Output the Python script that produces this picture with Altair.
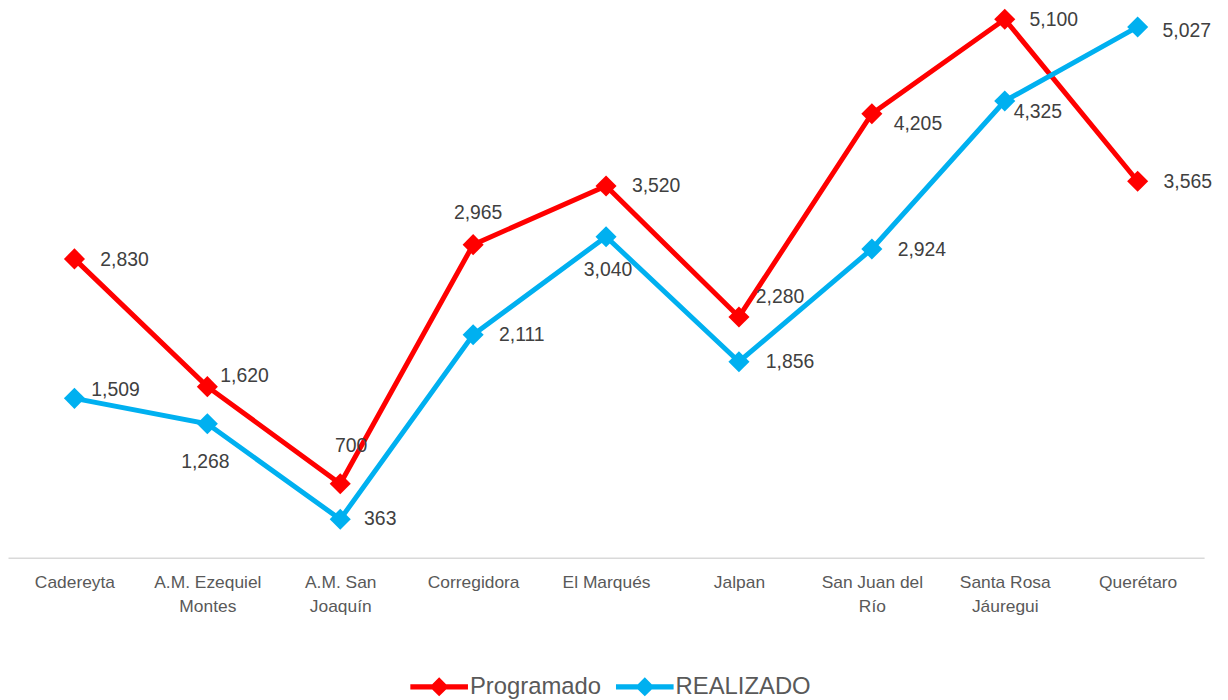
import altair as alt
import pandas as pd

categories = ["Cadereyta", "A.M. Ezequiel Montes", "A.M. San Joaquín", "Corregidora",
              "El Marqués", "Jalpan", "San Juan del Río", "Santa Rosa Jáuregui", "Querétaro"]
tick_lines = [["Cadereyta"], ["A.M. Ezequiel", "Montes"], ["A.M. San", "Joaquín"], ["Corregidora"],
              ["El Marqués"], ["Jalpan"], ["San Juan del", "Río"], ["Santa Rosa", "Jáuregui"], ["Querétaro"]]
series = ["Programado", "REALIZADO"]
programado = [2830, 1620, 700, 2965, 3520, 2280, 4205, 5100, 3565]
realizado = [1509, 1268, 363, 2111, 3040, 1856, 2924, 4325, 5027]
colors = ["#ff0000", "#00b0f0"]

rows = []
for s, vals in zip(series, [programado, realizado]):
    for c, v in zip(categories, vals):
        rows.append({"cat": c, "serie": s, "valor": v})
df = pd.DataFrame(rows)

# label placement (align, dx, dy) per series, per category
place = {
    "Programado": [("left", 26, 1), ("left", 13, -11), ("center", 11, -38), ("center", 5, -32),
                   ("left", 26, 0), ("left", 17, -20), ("left", 22, 10), ("left", 25, 1), ("left", 26, 1)],
    "REALIZADO": [("left", 17, -8), ("center", -2, 38), ("left", 24, 0), ("left", 26, 0),
                  ("center", 2, 34), ("left", 27, 0), ("left", 26, 1), ("left", 9, 11), ("left", 25, 4)],
}

FONT = "Liberation Sans, Arial, sans-serif"

label_expr = " : ".join(
    [f"datum.value == {c!r} ? {l!r}" for c, l in zip(categories, tick_lines)]
) + " : datum.value"

x = alt.X("cat:N", sort=categories, title=None,
          scale=alt.Scale(paddingOuter=0.5),
          axis=alt.Axis(labelExpr=label_expr, labelAngle=0, ticks=False, labelFontSize=17.5,
                        labelColor="#595959", labelFont=FONT, labelPadding=16, labelLineHeight=24,
                        domainColor="#d9d9d9", domainWidth=1.5, grid=False))
y = alt.Y("valor:Q", title=None, scale=alt.Scale(domain=[0, 5185], nice=False, zero=True),
          axis=None)
color_scale = alt.Scale(domain=series, range=colors)

legend_path = ("M-1,-0.09L-0.24,-0.09L0,-0.33L0.24,-0.09L1,-0.09L1,0.09L0.24,0.09"
               "L0,0.33L-0.24,0.09L-1,0.09Z")

legend = alt.Legend(title=None, orient="none", legendX=405, legendY=652, direction="horizontal",
                    symbolType=legend_path, symbolSize=3364, symbolStrokeWidth=0,
                    labelFontSize=24, labelFont=FONT, labelColor="#595959", padding=0,
                    labelOffset=2, columnPadding=14)

base = alt.Chart(df)
lines = base.mark_line(strokeWidth=5).encode(
    x=x, y=y, color=alt.Color("serie:N", scale=color_scale, sort=series, legend=legend), detail="serie:N"
)
points = base.mark_point(shape="diamond", filled=True, size=450, opacity=1).encode(
    x=x, y=y,
    color=alt.Color("serie:N", scale=color_scale, sort=series, legend=legend),
)

layers = [lines, points]
for s in series:
    for c, (al, dx, dy) in zip(categories, place[s]):
        layers.append(
            base.transform_filter((alt.datum.serie == s) & (alt.datum.cat == c))
            .mark_text(align=al, baseline="middle", dx=dx, dy=dy, fontSize=19.5, font=FONT, color="#404040")
            .encode(x=x, y=y, text=alt.Text("valor:Q", format=","))
        )

chart = alt.layer(*layers).properties(
    width=1204, height=551,
    padding={"left": 0, "top": 0, "right": 16, "bottom": 142},
    autosize=alt.AutoSizeParams(type="none"),
).configure_view(stroke=None)

chart.save("out.html", embed_options={"renderer": "svg", "actions": False})
